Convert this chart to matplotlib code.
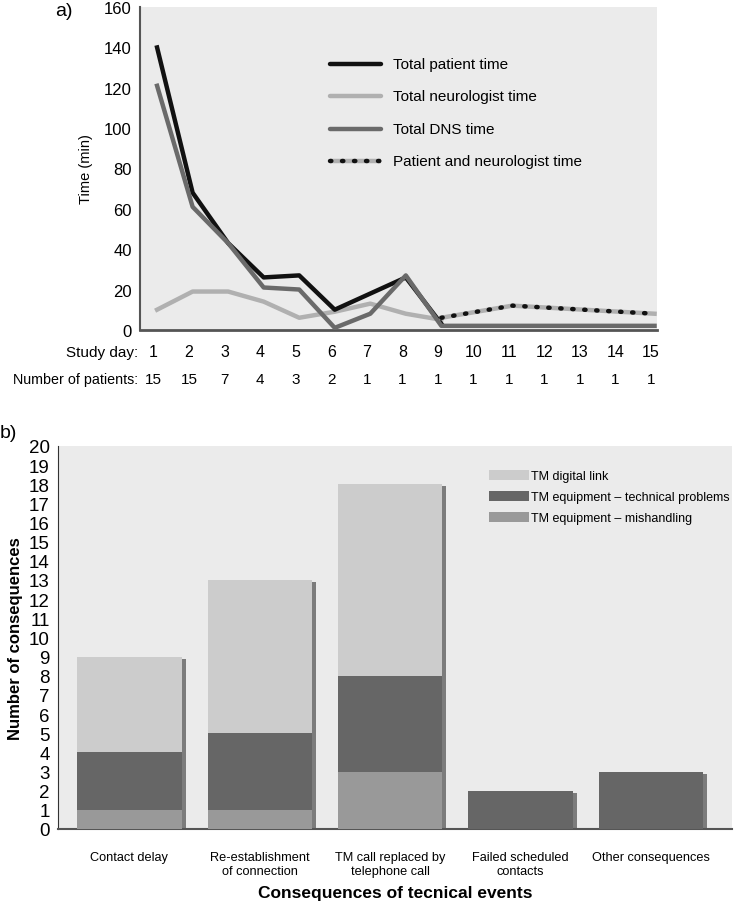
import matplotlib
matplotlib.use("Agg")
import matplotlib.pyplot as plt
import matplotlib.patheffects as pe
from matplotlib.patches import Patch
import numpy as np

plt.rcParams['font.family'] = ['Liberation Sans', 'DejaVu Sans']

# --- panel a data ---
days = list(range(1, 16))
n_patients = [15, 15, 7, 4, 3, 2, 1, 1, 1, 1, 1, 1, 1, 1, 1]
patient_days = [1, 2, 3, 4, 5, 6, 7, 8, 9]
patient_time = [140, 68, 43, 26, 27, 10, 18, 26, 3]
neuro_time = [10, 19, 19, 14, 6, 9, 13, 8, 5]
dns_days = list(range(1, 16))
dns_time = [121, 61, 43, 21, 20, 1, 8, 27, 2, 2, 2, 2, 2, 2, 2]
both_days = [9, 10, 11, 12, 13, 14, 15]
both_time = [6, 9, 12, 11, 10, 9, 8]

# --- panel b data ---
categories = ['Contact delay', 'Re-establishment\nof connection', 'TM call replaced by\ntelephone call',
              'Failed scheduled\ncontacts', 'Other consequences']
mishandling = [1, 1, 3, 0, 0]
technical = [3, 4, 5, 2, 3]
digital = [5, 8, 10, 0, 0]

bg = '#ebebeb'
fig = plt.figure(figsize=(7.37, 9.04), dpi=100)

# ---------------- panel a ----------------
ax = fig.add_axes([0.190, 0.634, 0.701, 0.357])
ax.set_facecolor(bg)
ax.plot(patient_days, patient_time, color='#111111', lw=3.2, zorder=3)
ax.plot(patient_days, neuro_time, color='#b0b0b0', lw=3.2, zorder=2)
ax.plot(dns_days, dns_time, color='#6a6a6a', lw=3.2, zorder=4)
ax.plot(both_days, both_time, color='#b0b0b0', lw=3.2, zorder=5)
ax.plot(both_days, both_time, color='#111111', lw=3.2, ls=(0, (0.3, 2.4)),
        dash_capstyle='round', zorder=6)
ax.set_xlim(0.52, 15.06)
ax.set_ylim(0, 160)
ax.set_yticks(range(0, 161, 20))
ax.set_xticks([])
ax.tick_params(axis='y', length=0, labelsize=12, pad=6)
for s in ['top', 'right']:
    ax.spines[s].set_visible(False)
ax.spines['left'].set_color('#555555')
ax.spines['left'].set_linewidth(1.5)
ax.spines['bottom'].set_color('#555555')
ax.spines['bottom'].set_linewidth(2)
ax.set_ylabel('Time (min)', fontsize=10.5, labelpad=8)

# legend drawn by hand (line samples + text)
leg_labels = ['Total patient time', 'Total neurologist time', 'Total DNS time',
              'Patient and neurologist time']
leg_y = [0.824, 0.725, 0.622, 0.523]
leg_cols = ['#111111', '#b0b0b0', '#6a6a6a', '#b0b0b0']
xs = [0.368, 0.466]
for i, (lab, yy) in enumerate(zip(leg_labels, leg_y)):
    ax.plot(xs, [yy, yy], transform=ax.transAxes, color=leg_cols[i], lw=3.2,
            solid_capstyle='round' if i < 3 else 'butt')
    if i == 3:
        ax.plot(xs, [yy, yy], transform=ax.transAxes, color='#111111', lw=3.2,
                ls=(0, (0.3, 2.4)), dash_capstyle='round')
    ax.text(0.489, yy, lab, transform=ax.transAxes, fontsize=11, va='center', ha='left')

trans = ax.get_xaxis_transform()
ax.text(0.46, -0.068, 'Study day:', transform=trans, fontsize=11, ha='right', va='center')
ax.text(0.46, -0.152, 'Number of patients:', transform=trans, fontsize=10.3, ha='right', va='center')
for d, n in zip(days, n_patients):
    ax.text(d - 0.1, -0.068, str(d), transform=trans, fontsize=11.5, ha='center', va='center')
    ax.text(d - 0.1, -0.152, str(n), transform=trans, fontsize=11, ha='center', va='center')
fig.text(0.075, 0.987, 'a)', fontsize=14, ha='left', va='center')

# ---------------- panel b ----------------
bx = fig.add_axes([0.0787, 0.0819, 0.914, 0.4237])
bx.set_facecolor(bg)
x = np.arange(len(categories))
w = 0.8
bot2 = [m + t for m, t in zip(mishandling, technical)]
totals = [a + b for a, b in zip(bot2, digital)]
# drop shadow behind each full stack
sh = bx.bar(x, totals, w, color=bg, zorder=2)
for r in sh:
    r.set_path_effects([pe.SimplePatchShadow(offset=(3, -1.5), shadow_rgbFace='#222222', alpha=0.55)])
bx.bar(x, mishandling, w, color='#999999', zorder=3)
bx.bar(x, technical, w, bottom=mishandling, color='#666666', zorder=3)
bx.bar(x, digital, w, bottom=bot2, color='#cccccc', zorder=3)
bx.set_xlim(-0.548, 4.62)
bx.set_ylim(0, 20)
bx.set_yticks(range(0, 21))
bx.set_yticks([5, 10, 15], minor=True)
bx.yaxis.grid(True, which='minor', color='white', lw=1)
bx.set_axisbelow(True)
bx.tick_params(axis='y', which='both', length=0, labelsize=13.5, pad=6)
bx.set_xticks(x)
bx.set_xticklabels(categories, fontsize=9.2)
bx.tick_params(axis='x', length=0, pad=16)
for s in ['top', 'right']:
    bx.spines[s].set_visible(False)
bx.spines['left'].set_color('#333333')
bx.spines['bottom'].set_color('#555555')
bx.spines['bottom'].set_linewidth(1.5)
bx.set_ylabel('Number of consequences', fontsize=12, fontweight='bold', labelpad=4)
bx.set_xlabel('Consequences of tecnical events', fontsize=12.5, fontweight='bold', labelpad=6)

handles = [Patch(facecolor='#cccccc'), Patch(facecolor='#666666'), Patch(facecolor='#999999')]
bx.legend(handles, ['TM digital link', 'TM equipment \u2013 technical problems', 'TM equipment \u2013 mishandling'],
          loc='upper left', bbox_to_anchor=(0.632, 0.95), frameon=False, fontsize=9.0,
          handlelength=3.2, handleheight=0.85, handletextpad=0.15, labelspacing=0.68,
          borderaxespad=0)
fig.text(0.0, 0.521, 'b)', fontsize=14, ha='left', va='center')

fig.savefig('out.png', dpi=100)
